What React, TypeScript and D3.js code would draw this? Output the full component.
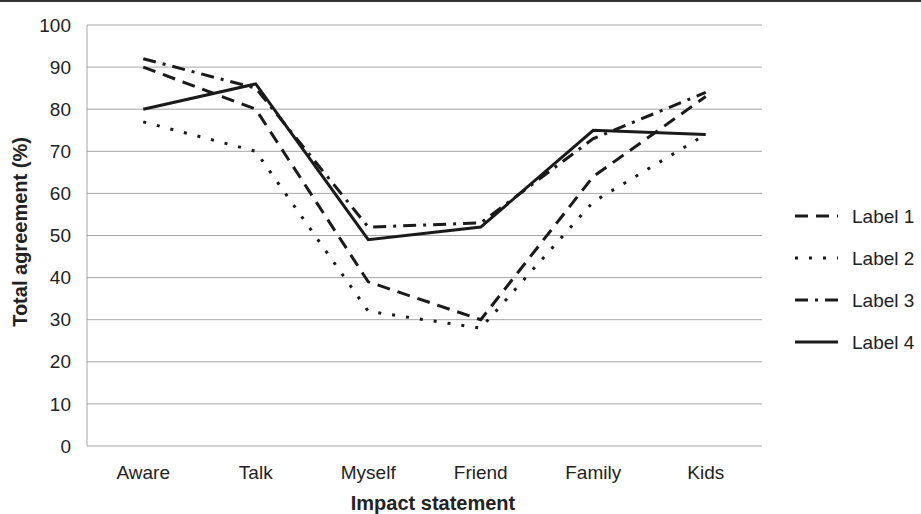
import React, { useEffect, useRef } from 'react';
import * as d3 from 'd3';

// Data
const categories = ['Aware', 'Talk', 'Myself', 'Friend', 'Family', 'Kids'];
const label1 = [90, 80, 39, 30, 64, 83];
const label2 = [77, 70, 32, 28, 58, 74];
const label3 = [92, 85, 52, 53, 73, 84];
const label4 = [80, 86, 49, 52, 75, 74];
const seriesNames = ['Label 1', 'Label 2', 'Label 3', 'Label 4'];
const yTicks = [0, 10, 20, 30, 40, 50, 60, 70, 80, 90, 100];

const W = 921;
const H = 514;

const App: React.FC = () => {
  const ref = useRef<SVGSVGElement>(null);

  useEffect(() => {
    if (!ref.current) return;
    const svg = d3.select(ref.current);
    svg.selectAll('*').remove();

    const margin = { top: 25, left: 87, right: 159, bottom: 68 };
    const font = 'Liberation Sans, Arial, sans-serif';

    const x = d3.scaleBand<string>()
      .domain(categories)
      .range([margin.left, W - margin.right]);
    const y = d3.scaleLinear()
      .domain([0, 100])
      .range([H - margin.bottom, margin.top]);

    // dark rule along the top of the figure
    svg.append('rect')
      .attr('x', 0).attr('y', 0)
      .attr('width', W).attr('height', 2)
      .attr('fill', '#333');

    // gridlines
    svg.append('g')
      .selectAll('line')
      .data(yTicks)
      .join('line')
      .attr('x1', margin.left)
      .attr('x2', W - margin.right)
      .attr('y1', d => y(d))
      .attr('y2', d => y(d))
      .attr('stroke', '#a6a6a6')
      .attr('stroke-width', 1);

    // y axis line
    svg.append('line')
      .attr('x1', margin.left).attr('x2', margin.left)
      .attr('y1', y(100)).attr('y2', y(0))
      .attr('stroke', '#a6a6a6');

    // y tick labels
    svg.append('g')
      .selectAll('text')
      .data(yTicks)
      .join('text')
      .attr('x', margin.left - 16)
      .attr('y', d => y(d))
      .attr('dy', '0.35em')
      .attr('text-anchor', 'end')
      .style('font-family', font)
      .style('font-size', '19px')
      .attr('fill', '#222')
      .text(d => d);

    // x tick labels
    svg.append('g')
      .selectAll('text')
      .data(categories)
      .join('text')
      .attr('x', d => (x(d) ?? 0) + x.bandwidth() / 2)
      .attr('y', y(0) + 33)
      .attr('text-anchor', 'middle')
      .style('font-family', font)
      .style('font-size', '19px')
      .attr('fill', '#222')
      .text(d => d);

    // axis titles
    svg.append('text')
      .attr('x', 433)
      .attr('y', 510)
      .attr('text-anchor', 'middle')
      .style('font-family', font)
      .style('font-size', '20px')
      .style('font-weight', 'bold')
      .attr('fill', '#222')
      .text('Impact statement');

    svg.append('text')
      .attr('transform', `translate(27, 232) rotate(-90)`)
      .attr('text-anchor', 'middle')
      .style('font-family', font)
      .style('font-size', '20px')
      .style('font-weight', 'bold')
      .attr('fill', '#222')
      .text('Total agreement (%)');

    const series = [label1, label2, label3, label4];
    const dashes = ['13,8', '3,11', '13,7,3,7', null];

    const line = d3.line<number>()
      .x((_, i) => (x(categories[i]) ?? 0) + x.bandwidth() / 2)
      .y(d => y(d));

    series.forEach((s, i) => {
      svg.append('path')
        .datum(s)
        .attr('d', line)
        .attr('fill', 'none')
        .attr('stroke', '#1a1a1a')
        .attr('stroke-width', 3)
        .attr('stroke-dasharray', dashes[i])
        .attr('stroke-linejoin', 'miter');
    });

    // legend
    const legend = svg.append('g')
      .attr('transform', 'translate(795, 216)');
    seriesNames.forEach((name, i) => {
      const g = legend.append('g').attr('transform', `translate(0, ${i * 42})`);
      g.append('line')
        .attr('x1', 0).attr('x2', 43)
        .attr('y1', 0).attr('y2', 0)
        .attr('stroke', '#1a1a1a')
        .attr('stroke-width', 3)
        .attr('stroke-dasharray', dashes[i]);
      g.append('text')
        .attr('x', 57)
        .attr('y', 0)
        .attr('dy', '0.35em')
        .style('font-family', font)
        .style('font-size', '19px')
        .attr('fill', '#222')
        .text(name);
    });
  }, []);

  return (
    <svg
      ref={ref}
      width={W}
      height={H}
      style={{ position: 'absolute', left: 0, top: 0, background: '#fff' }}
    />
  );
};

export default App;
